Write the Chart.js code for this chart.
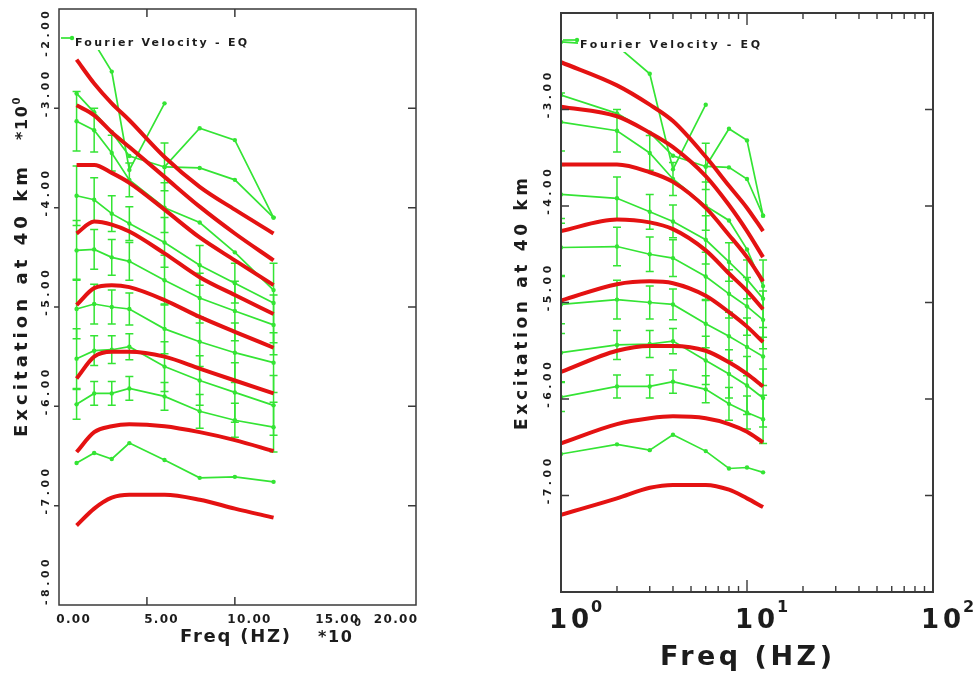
<!DOCTYPE html>
<html>
<head>
<meta charset="utf-8">
<script src="https://cdn.jsdelivr.net/npm/chart.js@4.4.0/dist/chart.umd.min.js"></script>
<style>
  html, body { margin: 0; padding: 0; background: #fff; }
  #left  { position: absolute; left: 0;     top: 0; width: 490px; height: 675px; }
  #right { position: absolute; left: 490px; top: 0; width: 487px; height: 675px; }
</style>
</head>
<body>
<div id="left"><canvas id="cLeft"></canvas></div>
<div id="right"><canvas id="cRight"></canvas></div>
<script>
// frequencies (Hz) shared by every curve
const freq = [1, 2, 3, 4, 6, 8, 10, 12.2];

// model excitation curves (red), log10 units
const model1 = [-2.51, -2.75, -2.95, -3.12, -3.49, -3.79, -4.02, -4.26];
const model2 = [-2.97, -3.07, -3.24, -3.39, -3.69, -3.99, -4.26, -4.53];
const model3 = [-3.57, -3.57, -3.65, -3.75, -4.02, -4.30, -4.53, -4.78];
const model4 = [-4.26, -4.14, -4.17, -4.24, -4.46, -4.70, -4.88, -5.07];
const model5 = [-4.98, -4.81, -4.78, -4.80, -4.93, -5.10, -5.25, -5.41];
const model6 = [-5.72, -5.50, -5.45, -5.45, -5.50, -5.62, -5.74, -5.87];
const model7 = [-6.46, -6.26, -6.20, -6.18, -6.20, -6.26, -6.34, -6.45];
const model8 = [-7.20, -7.03, -6.92, -6.89, -6.89, -6.94, -7.03, -7.12];

// observed Fourier velocity (green); null where there is no value
const obs1  = [-2.30, -2.34, -2.63, -3.62, -2.95, null, null, null];
const obs2  = [null, null, null, null, -3.59, -3.20, -3.32, -4.10];
const obs3  = [-2.85, -3.04, -3.24, -3.48, -3.59, -3.60, -3.72, -4.10];
const obs4  = [-3.13, -3.22, -3.45, -3.72, -4.00, -4.15, -4.45, -4.83];
const obs5  = [-3.88, -3.92, -4.06, -4.16, -4.35, -4.58, -4.76, -4.96];
const obs6  = [-4.43, -4.42, -4.50, -4.54, -4.73, -4.91, -5.04, -5.18];
const obs7  = [-5.02, -4.97, -5.00, -5.02, -5.22, -5.35, -5.46, -5.56];
const obs8  = [-5.52, -5.44, -5.43, -5.40, -5.60, -5.74, -5.86, -5.99];
const obs9  = [-5.98, -5.87, -5.87, -5.82, -5.90, -6.05, -6.14, -6.21];
const obs10 = [-6.57, -6.47, -6.53, -6.37, -6.54, -6.72, -6.71, -6.76];

// error bar half-widths
const err3 = [0, 0, 0, 0, 0.24, 0, 0, 0];
const err4 = [0.30, 0.22, 0.18, 0.17, 0.25, 0, 0, 0];
const err5 = [0.30, 0.22, 0.18, 0.17, 0.25, 0.20, 0.20, 0.40];
const err6 = [0.30, 0.20, 0.18, 0.19, 0.25, 0.25, 0.30, 0.30];
const err7 = [0.30, 0.20, 0.17, 0.16, 0.25, 0.25, 0.30, 0.30];
const err8 = [0.30, 0.15, 0.14, 0.13, 0.25, 0.25, 0.30, 0.30];
const err9 = [0.15, 0.12, 0.12, 0.12, 0.14, 0.17, 0.17, 0.25];

// axis ticks
const yTicksLeft  = [-8, -7, -6, -5, -4, -3, -2];
const yTicksRight = [-7, -6, -5, -4, -3];
const xTicksLeft  = [0, 5, 10, 15, 20];
const xMarksLeft  = [5, 10];
const xTicksRight = [1, 10, 100];

const legendText = 'Fourier Velocity - EQ';
const yTitle = 'Excitation at 40 km';
const xTitle = 'Freq (HZ)';

const RED = 'rgb(228, 18, 18)';
const GREEN = 'rgb(52, 228, 52)';
const INK = '#1c1c1c';
const FONT = 'DejaVu Sans';

const models = [model1, model2, model3, model4, model5, model6, model7, model8];
const observed = [
  [obs1, null], [obs2, null], [obs3, err3], [obs4, err4], [obs5, err5],
  [obs6, err6], [obs7, err7], [obs8, err8], [obs9, err9], [obs10, null]
];

function toPoints(vals, errs) {
  const pts = [];
  vals.forEach((v, i) => {
    if (v === null) return;
    pts.push({ x: freq[i], y: v, err: errs ? errs[i] : 0 });
  });
  return pts;
}

function buildDatasets() {
  const sets = [];
  models.forEach(m => sets.push({
    data: toPoints(m, null),
    borderColor: RED,
    borderWidth: 4,
    pointRadius: 0,
    cubicInterpolationMode: 'monotone',
    order: 1
  }));
  observed.forEach(([vals, errs]) => sets.push({
    data: toPoints(vals, errs),
    borderColor: GREEN,
    backgroundColor: GREEN,
    borderWidth: 1.7,
    pointRadius: 2.2,
    pointBorderWidth: 0,
    tension: 0,
    order: 2
  }));
  return sets;
}

// vertical error bars with caps, under the lines
const errorBars = {
  id: 'errorBars',
  beforeDatasetsDraw(chart) {
    const { ctx, chartArea, scales: { x, y } } = chart;
    ctx.save();
    ctx.beginPath();
    ctx.rect(chartArea.left, chartArea.top, chartArea.width, chartArea.height);
    ctx.clip();
    ctx.strokeStyle = GREEN;
    ctx.lineWidth = 1.5;
    chart.data.datasets.forEach(ds => {
      ds.data.forEach(p => {
        if (!p.err) return;
        const px = x.getPixelForValue(p.x);
        const top = y.getPixelForValue(p.y + p.err);
        const bot = y.getPixelForValue(p.y - p.err);
        ctx.beginPath();
        ctx.moveTo(px, top); ctx.lineTo(px, bot);
        ctx.moveTo(px - 4, top); ctx.lineTo(px + 4, top);
        ctx.moveTo(px - 4, bot); ctx.lineTo(px + 4, bot);
        ctx.stroke();
      });
    });
    ctx.restore();
  }
};

// text spread out with letter spacing so it spans the given width
function spreadText(ctx, text, x, y, width) {
  ctx.letterSpacing = '0px';
  const w = ctx.measureText(text).width;
  const gap = text.length > 1 ? (width - w) / (text.length - 1) : 0;
  ctx.letterSpacing = gap + 'px';
  ctx.textAlign = 'left';
  ctx.fillText(text, x, y);
  ctx.letterSpacing = '0px';
}

function spacedWidth(ctx, text, spacing) {
  ctx.letterSpacing = '0px';
  return ctx.measureText(text).width + spacing * (text.length - 1);
}

function drawSpaced(ctx, text, x, y, spacing) {
  ctx.letterSpacing = spacing + 'px';
  ctx.textAlign = 'left';
  ctx.fillText(text, x, y);
  ctx.letterSpacing = '0px';
}

// text rotated to read bottom to top, centred on (cx, cy)
function rotatedText(ctx, text, cx, cy, width) {
  ctx.save();
  ctx.translate(cx, cy);
  ctx.rotate(-Math.PI / 2);
  ctx.textBaseline = 'middle';
  spreadText(ctx, text, -width / 2, 0, width);
  ctx.restore();
}

function drawLegend(ctx, area, opts) {
  ctx.save();
  ctx.font = 'bold 11px ' + FONT;
  ctx.textBaseline = 'middle';
  const x0 = area.left + opts.offset;
  ctx.fillStyle = '#fff';
  ctx.fillRect(x0 - 2, opts.y - 7, opts.width + 4, 14);
  ctx.strokeStyle = GREEN;
  ctx.lineWidth = 1.7;
  ctx.beginPath();
  ctx.moveTo(area.left + 2, opts.y - 5);
  ctx.lineTo(x0 - 3, opts.y - 5);
  ctx.stroke();
  ctx.fillStyle = GREEN;
  ctx.beginPath();
  ctx.arc(x0 - 3, opts.y - 5, 2.2, 0, Math.PI * 2);
  ctx.fill();
  ctx.fillStyle = INK;
  spreadText(ctx, legendText, x0, opts.y, opts.width);
  ctx.restore();
}

function yTickLabels(ctx, chart, values, cx) {
  const { chartArea: a, scales: { y } } = chart;
  ctx.font = 'bold 11px ' + FONT;
  ctx.fillStyle = INK;
  values.forEach(v => {
    const txt = v.toFixed(2);
    const w = spacedWidth(ctx, txt, 3.5);
    let cy = y.getPixelForValue(v) - 14;
    cy = Math.max(cy, a.top + 2 + w / 2);
    cy = Math.min(cy, a.bottom - w / 2);
    rotatedText(ctx, txt, cx, cy, w);
  });
}

const leftDecor = {
  id: 'leftDecor',
  afterDatasetsDraw(chart) {
    drawLegend(chart.ctx, chart.chartArea, { offset: 16, y: 43, width: 172 });
  },
  afterDraw(chart) {
    const { ctx, chartArea: a, scales: { x, y } } = chart;
    ctx.save();
    ctx.strokeStyle = '#3a3a3a';
    ctx.lineWidth = 1.5;
    ctx.strokeRect(a.left, a.top, a.width, a.height);
    ctx.beginPath();
    yTicksLeft.slice(1, -1).forEach(v => {
      const py = y.getPixelForValue(v);
      ctx.moveTo(a.left - 5, py); ctx.lineTo(a.left, py);
      ctx.moveTo(a.right - 8, py); ctx.lineTo(a.right, py);
    });
    xMarksLeft.forEach(v => {
      const px = x.getPixelForValue(v);
      ctx.moveTo(px, a.top); ctx.lineTo(px, a.top + 8);
      ctx.moveTo(px, a.bottom); ctx.lineTo(px, a.bottom - 8);
    });
    ctx.stroke();

    yTickLabels(ctx, chart, yTicksLeft, 46);

    // x tick labels
    ctx.font = 'bold 12px ' + FONT;
    ctx.textBaseline = 'middle';
    xTicksLeft.forEach(v => {
      const txt = v.toFixed(2);
      const w = spacedWidth(ctx, txt, 1.3);
      let cx = x.getPixelForValue(v) + 14;
      cx = Math.min(cx, a.right + 1 - w / 2);
      drawSpaced(ctx, txt, cx - w / 2, 620, 1.3);
    });

    // axis titles with the *10^0 multiplier
    ctx.font = 'bold 18px ' + FONT;
    spreadText(ctx, xTitle, 235 - 55, 637, 110);
    ctx.font = 'bold 16px ' + FONT;
    spreadText(ctx, '*10', 318, 638, 34);
    ctx.font = 'bold 10px ' + FONT;
    ctx.fillText('0', 354, 623);

    ctx.font = 'bold 18px ' + FONT;
    rotatedText(ctx, yTitle, 22, 302, 270);
    ctx.font = 'bold 16px ' + FONT;
    rotatedText(ctx, '*10', 23, 123, 34);
    ctx.save();
    ctx.translate(17, 101);
    ctx.rotate(-Math.PI / 2);
    ctx.font = 'bold 10px ' + FONT;
    ctx.textBaseline = 'middle';
    ctx.textAlign = 'center';
    ctx.fillText('0', 0, 0);
    ctx.restore();
    ctx.restore();
  }
};

const rightDecor = {
  id: 'rightDecor',
  afterDatasetsDraw(chart) {
    drawLegend(chart.ctx, chart.chartArea, { offset: 19, y: 45, width: 180 });
  },
  afterDraw(chart) {
    const { ctx, chartArea: a, scales: { x, y } } = chart;
    ctx.save();
    ctx.strokeStyle = '#3a3a3a';
    ctx.lineWidth = 2;
    ctx.strokeRect(a.left, a.top, a.width, a.height);
    ctx.lineWidth = 1.4;
    ctx.beginPath();
    yTicksRight.forEach(v => {
      const py = y.getPixelForValue(v);
      ctx.moveTo(a.left, py); ctx.lineTo(a.left + 8, py);
      ctx.moveTo(a.right - 8, py); ctx.lineTo(a.right, py);
    });
    // decade and in-between log ticks on top and bottom
    [1, 10].forEach(d => {
      for (let k = 1; k <= 9; k++) {
        const v = d * k;
        if (v === 1) continue;
        const len = k === 1 ? 12 : 6;
        const px = x.getPixelForValue(v);
        ctx.moveTo(px, a.top); ctx.lineTo(px, a.top + len);
        ctx.moveTo(px, a.bottom); ctx.lineTo(px, a.bottom - len);
      }
    });
    ctx.stroke();

    yTickLabels(ctx, chart, yTicksRight, 58);

    // 10^n labels
    ctx.fillStyle = INK;
    ctx.textBaseline = 'middle';
    xTicksRight.forEach(v => {
      const px = x.getPixelForValue(v);
      ctx.font = 'bold 26px ' + FONT;
      const w = spacedWidth(ctx, '10', 4);
      const x0 = px + 8 - w / 2;
      drawSpaced(ctx, '10', x0, 621, 4);
      ctx.font = 'bold 16px ' + FONT;
      ctx.fillText(String(Math.round(Math.log10(v))), x0 + w + 2, 608);
    });

    ctx.font = 'bold 27px ' + FONT;
    spreadText(ctx, xTitle, 256 - 86, 658, 172);

    ctx.font = 'bold 17px ' + FONT;
    rotatedText(ctx, yTitle, 33, 304, 252);
    ctx.restore();
  }
};

function hiddenScale(extra, horizontal) {
  return Object.assign({
    grid: { display: false },
    border: { display: false },
    ticks: { display: false },
    afterFit(s) { if (horizontal) s.height = 0; else s.width = 0; }
  }, extra);
}

new Chart(document.getElementById('cLeft'), {
  type: 'line',
  data: { datasets: buildDatasets() },
  options: {
    animation: false,
    responsive: true,
    maintainAspectRatio: false,
    layout: { padding: { left: 59, top: 9, right: 74, bottom: 70 } },
    scales: {
      x: hiddenScale({ type: 'linear', min: 0, max: 20.3 }, true),
      y: hiddenScale({ type: 'linear', min: -8, max: -2 }, false)
    },
    plugins: { legend: { display: false }, tooltip: { enabled: false } }
  },
  plugins: [errorBars, leftDecor]
});

new Chart(document.getElementById('cRight'), {
  type: 'line',
  data: { datasets: buildDatasets() },
  options: {
    animation: false,
    responsive: true,
    maintainAspectRatio: false,
    layout: { padding: { left: 71, top: 13, right: 44, bottom: 83 } },
    scales: {
      x: hiddenScale({ type: 'logarithmic', min: 1, max: 100 }, true),
      y: hiddenScale({ type: 'linear', min: -8, max: -2 }, false)
    },
    plugins: { legend: { display: false }, tooltip: { enabled: false } }
  },
  plugins: [errorBars, rightDecor]
});
</script>
</body>
</html>
